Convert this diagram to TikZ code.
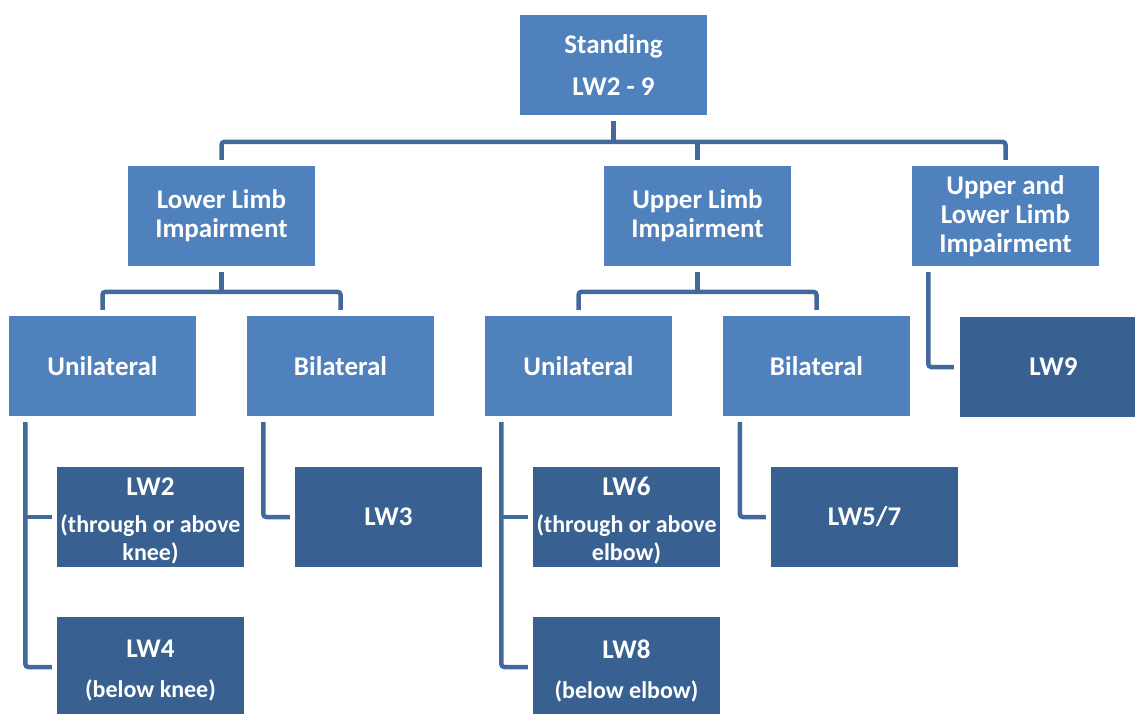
\documentclass[tikz,border=0pt]{standalone}
\usepackage{fontspec}
\setmainfont{Carlito}
\usetikzlibrary{calc}
\definecolor{boxlight}{HTML}{4F81BD}
\definecolor{boxdark}{HTML}{386192}
\definecolor{linec}{HTML}{41699C}
\newcommand{\subfont}{\fontsize{24}{26}\selectfont}
\newcommand{\dnline}[1]{\raisebox{-4pt}[\height][\depth]{#1}}
\begin{document}
\begin{tikzpicture}[x=1pt,y=-1pt,
  box/.style={fill=boxlight, text=white, font=\bfseries\fontsize{27}{29}\selectfont,
    minimum width=187pt, minimum height=100pt, inner sep=0pt, align=center, draw=none},
  dbox/.style={box, fill=boxdark},
  conn/.style={draw=linec, line width=4.5pt, rounded corners=3pt}]
\useasboundingbox (0,0) rectangle (1135,713);
\clip (0,0) rectangle (1135,713);
% boxes
\node[box] (std) at (613.5,65) {Standing\\[13pt]LW2 - 9};
\node[box] (ll) at (221.5,216) {Lower Limb\\Impairment};
\node[box] (ul) at (697.5,216) {Upper Limb\\Impairment};
\node[box] (ulb) at (1005.5,216) {Upper and\\Lower Limb\\Impairment};
\node[box] (lu) at (102.5,366) {Unilateral};
\node[box] (lb) at (340.5,366) {Bilateral};
\node[box] (uu) at (578.5,366) {Unilateral};
\node[box] (ub) at (816.5,366) {Bilateral};
\node[dbox] (lw9) at (1053.5,367) {LW9};
\node[dbox] (lw2) at (150.5,517) {\dnline{LW2}\\[8pt]\subfont\dnline{(through or above}\\[-1pt]\subfont\dnline{knee)}};
\node[dbox] (lw4) at (150.5,667) {\dnline{LW4}\\[11pt]\subfont\dnline{(below knee)}};
\node[dbox] (lw3) at (388.5,517) {LW3};
\node[dbox] (lw6) at (626.5,517) {\dnline{LW6}\\[8pt]\subfont\dnline{(through or above}\\[-1pt]\subfont\dnline{elbow)}};
\node[dbox] (lw8) at (626.5,667) {\dnline{LW8}\\[11pt]\subfont\dnline{(below elbow)}};
\node[dbox] (lw57) at (864.5,517) {LW5/7};
% top level connectors
\draw[conn] ($(std.south)+(0,6)$) -- ($(std.south)+(0,27)$);
\draw[conn] ($(ll.north)+(0,-6)$) -- ($(ll.north)+(0,-24)$) -- ($(ulb.north)+(0,-24)$) -- ($(ulb.north)+(0,-6)$);
\draw[conn] ($(ul.north)+(0,-24)$) -- ($(ul.north)+(0,-6)$);
% lower limb
\draw[conn] ($(ll.south)+(0,6)$) -- ($(ll.south)+(0,26)$);
\draw[conn] ($(lu.north)+(0,-6)$) -- ($(lu.north)+(0,-24)$) -- ($(lb.north)+(0,-24)$) -- ($(lb.north)+(0,-6)$);
% upper limb
\draw[conn] ($(ul.south)+(0,6)$) -- ($(ul.south)+(0,26)$);
\draw[conn] ($(uu.north)+(0,-6)$) -- ($(uu.north)+(0,-24)$) -- ($(ub.north)+(0,-24)$) -- ($(ub.north)+(0,-6)$);
% children
\draw[conn] ($(lu.south west)+(16.5,6)$) |- ($(lw4.west)+(-5,0)$);
\draw[conn] ($(lw2.west)+(-5,0)$) -- ++(-26.5,0);
\draw[conn] ($(lb.south west)+(16.5,6)$) |- ($(lw3.west)+(-5,0)$);
\draw[conn] ($(uu.south west)+(16.5,6)$) |- ($(lw8.west)+(-5,0)$);
\draw[conn] ($(lw6.west)+(-5,0)$) -- ++(-26.5,0);
\draw[conn] ($(ub.south west)+(17,6)$) |- ($(lw57.west)+(-5,0)$);
\draw[conn] ($(ulb.south west)+(16.5,6)$) |- ($(lw9.west)+(-6,0)$);
\end{tikzpicture}
\end{document}
